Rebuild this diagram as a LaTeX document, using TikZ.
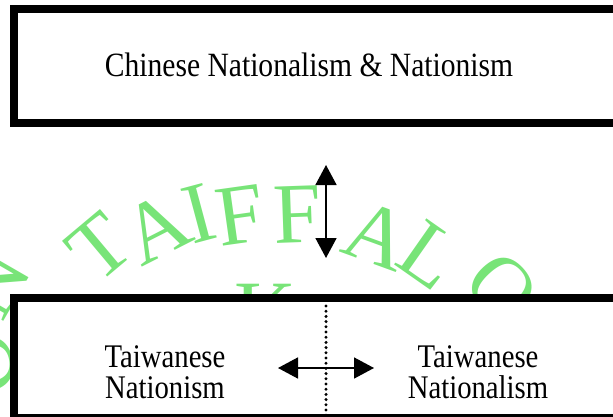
\documentclass[tikz,border=0pt]{standalone}
\usepackage{fontspec}
\setmainfont{Liberation Serif}
\newfontfamily\labfont[FakeStretch=0.87]{Liberation Serif}
\usetikzlibrary{arrows.meta}
\definecolor{wmgreen}{RGB}{120,228,120}
\begin{document}
\begin{tikzpicture}[x=1pt,y=-1pt,
  frame/.style={draw=black,line width=8pt,fill=white,inner sep=0pt,outer sep=0pt,anchor=north west},
  wm/.style={text=wmgreen,font=\fontsize{86}{86}\selectfont,inner sep=0pt},
  toptext/.style={font=\labfont\fontsize{34}{34}\selectfont,inner sep=0pt,anchor=base},
  bottext/.style={font=\labfont\fontsize{33}{31}\selectfont,align=center,inner sep=0pt,anchor=base},
  dblarrow/.style={{Triangle[length=20pt,width=21pt]}-{Triangle[length=20pt,width=21pt]},line width=1.6pt},
  dotline/.style={line width=3.3pt,line cap=round,dash pattern=on 0pt off 5.2pt}]
\useasboundingbox (0,0) rectangle (613,417);
\clip (0,0) rectangle (613,417);
% watermark
\node[wm,rotate=60] (wN) at (-6,283) {N};
\node[wm,rotate=40] (wT) at (100,247) {T};
\node[wm,rotate=27] (wA) at (156,228) {A};
\node[wm,rotate=15] (wI) at (199,214) {I};
\node[wm,rotate=8] (wF) at (240,215) {F};
\node[wm,rotate=2] (wFF) at (297,215) {F};
\node[wm,rotate=-20] (wAA) at (377,235) {A};
\node[wm,rotate=-35] (wL) at (430,256) {L};
\node[wm,rotate=-47] (wO) at (502,288) {O};
\node[wm] (wK) at (266,312) {K};
\node[wm,rotate=100] (wO2) at (-16,365) {O};
% boxes
\node[frame,minimum width=626.5pt,minimum height=114pt] (topbox) at (13.5,9) {};
\node[toptext] (ctext) at (309,77) {Chinese Nationalism \& Nationism};
\node[frame,minimum width=626.5pt,minimum height=120pt] (botbox) at (13.5,298) {};
\node[bottext] (left) at (165,398) {Taiwanese\\Nationism};
\node[bottext] (right) at (478,398) {Taiwanese\\Nationalism};
% connectors
\coordinate (vt) at (326,165);
\coordinate (vb) at (326,258);
\draw[dblarrow] (vt) -- (vb);
\coordinate (dtop) at (326,306);
\coordinate (dbot) at (326,420);
\draw[dotline] (dtop) -- (dbot);
\coordinate (hl) at (278,368);
\coordinate (hr) at (374,368);
\draw[dblarrow] (hl) -- (hr);
\end{tikzpicture}
\end{document}
